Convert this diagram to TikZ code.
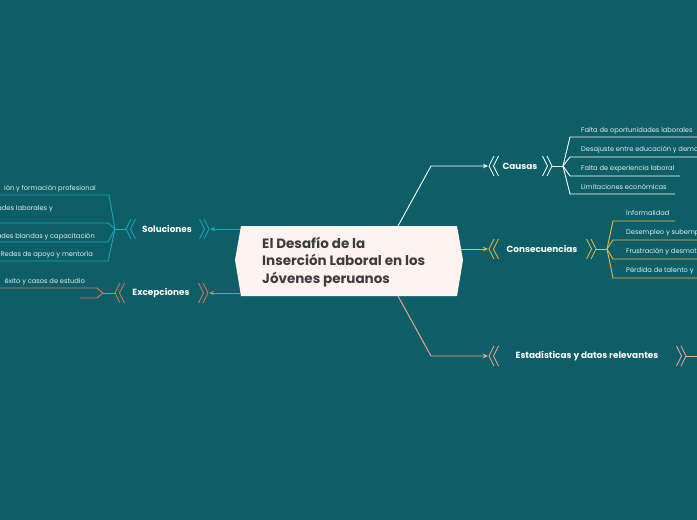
\documentclass[tikz,border=0pt]{standalone}
\usepackage{fontspec}
\setmainfont{Poppins}
\usetikzlibrary{arrows.meta}
\definecolor{bg}{HTML}{0E5E67}
\definecolor{cwhite}{HTML}{FFFFFF}
\definecolor{cyel}{HTML}{EDB73E}
\definecolor{ccyan}{HTML}{1CA4B8}
\definecolor{cred}{HTML}{E2725F}
\definecolor{cpink}{HTML}{F2A99E}
\definecolor{txt}{HTML}{E3ECEE}
\definecolor{cfill}{HTML}{FFF3F0}
\definecolor{ctxt}{HTML}{3C3C3C}
\begin{document}
\begin{tikzpicture}[x=1pt,y=-1pt,
  conn/.style={line width=0.9pt},
  tipend/.style={-{Stealth[length=5pt,width=4.5pt]}},
  lbl/.style={font=\bfseries\fontsize{8.9}{10}\selectfont, text=white, inner sep=0},
  ctext/.style={font=\fontsize{6.7}{8}\selectfont, text=txt, inner sep=0, anchor=base west},
  ctextR/.style={ctext, anchor=base east},
  ttl/.style={font=\bfseries\fontsize{13.5}{15}\selectfont, text=ctxt, inner sep=0, anchor=base west},
  chevL/.pic={\draw[line width=0.8pt] (5,-10)--(0,0)--(5,10); \draw[line width=0.8pt] (9.5,-10)--(4.5,0)--(9.5,10);},
  chevR/.pic={\draw[line width=0.8pt] (-5,-10)--(0,0)--(-5,10); \draw[line width=0.8pt] (-9.5,-10)--(-4.5,0)--(-9.5,10);}
]
\clip (0,0) rectangle (697,520);
\fill[bg] (0,0) rectangle (697,520);

% anchor points on central topic
\coordinate (cT) at (398,226);
\coordinate (cB) at (398,296);
\coordinate (cR) at (461,249);
\coordinate (cL1) at (241,229);
\coordinate (cL2) at (241,293);
\coordinate (aCau) at (488,166);
\coordinate (aCon) at (488,249);
\coordinate (aEst) at (488,356);
\coordinate (aSol) at (210,229);
\coordinate (aExc) at (209,293);

% main connectors
\draw[conn, cwhite, tipend] (cT) -- (431,166) -- (aCau);
\draw[conn, cyel, tipend] (cR) -- (aCon);
\draw[conn, cpink, tipend] (cB) -- (431,356) -- (aEst);
\draw[conn, ccyan, tipend] (cL1) -- (aSol);
\draw[conn, cred, tipend] (cL2) -- (aExc);

% central topic
\fill[cfill] (241,226) -- (457,226) -- (463,260) -- (457,296) -- (241,296) -- (235,260) -- cycle;
\node[ttl] (t1) at (262,248) {El Desafío de la};
\node[ttl] (t2) at (262,265.5) {Inserción Laboral en los};
\node[ttl] (t3) at (262,283) {Jóvenes peruanos};

% Causas
\pic[cwhite] at (489,166) {chevL};
\pic[cwhite] at (552,166) {chevR};
\node[lbl] (causas) at (520,166) {Causas};
\coordinate (fCau) at (563,166);
\draw[conn, cwhite] (552,166) -- (fCau);
\draw[conn, cwhite] (fCau) -- (570,137) -- (697,137);
\draw[conn, cwhite] (fCau) -- (570,157) -- (697,157);
\draw[conn, cwhite] (fCau) -- (570,176) -- (680,176);
\draw[conn, cwhite] (fCau) -- (570,194) -- (675,194);
\node[ctext] (ca1) at (581,132.5) {Falta de oportunidades laborales};
\node[ctext] (ca2) at (581,151.5) {Desajuste entre educación y demanda};
\node[ctext] (ca3) at (581,170.5) {Falta de experiencia laboral};
\node[ctext] (ca4) at (581,189.5) {Limitaciones económicas};

% Consecuencias
\pic[cyel] at (489,249) {chevL};
\pic[cyel] at (596,249) {chevR};
\node[lbl] (conse) at (542,249) {Consecuencias};
\coordinate (fCon) at (607,249);
\draw[conn, cyel] (596,249) -- (fCon);
\draw[conn, cyel] (fCon) -- (613,221) -- (675,221);
\draw[conn, cyel] (fCon) -- (613,240) -- (697,240);
\draw[conn, cyel] (fCon) -- (613,259) -- (697,259);
\draw[conn, cyel] (fCon) -- (613,278) -- (697,278);
\node[ctext] (co1) at (626,215.5) {Informalidad};
\node[ctext] (co2) at (626,234.5) {Desempleo y subempleo};
\node[ctext] (co3) at (626,253.5) {Frustración y desmotivación};
\node[ctext] (co4) at (626,272.5) {Pérdida de talento y};

% Estadisticas
\pic[cpink] at (489,356) {chevL};
\pic[cpink] at (686,356) {chevR};
\node[lbl] (estad) at (587,356) {Estadísticas y datos relevantes};
\draw[conn, cpink] (686,356) -- (697,356);

% Soluciones
\pic[ccyan] at (126,229) {chevL};
\pic[ccyan] at (209,229) {chevR};
\node[lbl] (soluc) at (167,229) {Soluciones};
\coordinate (fSol) at (115,229);
\draw[conn, ccyan] (126,229) -- (fSol);
\draw[conn, ccyan] (fSol) -- (109,195) -- (0,195);
\draw[conn, ccyan] (fSol) -- (108,223) -- (0,223);
\draw[conn, ccyan] (fSol) -- (108,242) -- (0,242);
\draw[conn, ccyan] (fSol) -- (108,261) -- (0,261);
\node[ctextR] (so1) at (96,190.5) {ión y formación profesional};
\node[ctextR] (so2) at (53,210.5) {ades laborales y};
\node[ctextR] (so3) at (95,238.5) {ades blandas y capacitación};
\node[ctextR] (so4) at (93,256.5) {Redes de apoyo y mentoría};

% Excepciones
\pic[cred] at (115,293) {chevL};
\pic[cred] at (208,293) {chevR};
\node[lbl] (excep) at (161,293) {Excepciones};
\coordinate (fExc) at (103,293);
\draw[conn, cred] (115,293) -- (fExc);
\draw[conn, cred] (fExc) -- (97,288) -- (0,288);
\draw[conn, cred] (fExc) -- (97,298) -- (80,298);
\node[ctextR] (ex1) at (85,283) {éxito y casos de estudio};
\end{tikzpicture}
\end{document}
